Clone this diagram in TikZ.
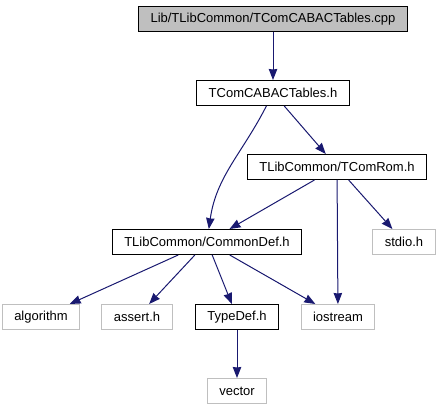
\documentclass[tikz,border=0pt]{standalone}
\usepackage{fontspec}
\setmainfont{Liberation Sans}
\usetikzlibrary{arrows.meta}
\definecolor{edgeblue}{RGB}{25,25,112}
\definecolor{mygray}{gray}{0.75}

\begin{document}
\begin{tikzpicture}[x=1pt, y=1pt, line width=1pt,
    file/.style={rectangle, draw, minimum height=25pt, inner xsep=12pt, inner ysep=0pt,
                 font=\fontsize{13}{15}\selectfont},
    sysfile/.style={file, draw=mygray},
    incl/.style={-{Stealth[length=11pt, width=8.5pt, inset=0.5pt]}, draw=edgeblue}]
        \useasboundingbox (0,0) rectangle (443,-411);

        % ファイル（ノード）の定義
        \node[file, fill=mygray] (CPP) at (273,-19) {Lib/TLibCommon/TComCABACTables.cpp};
        \node[file] (TAB) at (273,-93) {TComCABACTables.h};
        \node[file] (ROM) at (337,-167) {TLibCommon/TComRom.h};
        \node[file] (DEF) at (207,-242) {TLibCommon/CommonDef.h};
        \node[sysfile] (STD) at (404,-242) {stdio.h};
        \node[sysfile] (ALG) at (41,-317) {algorithm};
        \node[sysfile] (AST) at (137,-317) {assert.h};
        \node[file] (TYP) at (237,-317) {TypeDef.h};
        \node[sysfile] (IOS) at (338,-317) {iostream};
        \node[sysfile] (VEC) at (237,-391) {vector};

        % インクルード関係の矢印
        \draw[incl] (CPP) -- (TAB);
        \draw[incl] (TAB) to [out=-117, in=82] (DEF);
        \draw[incl] (TAB) -- (ROM);
        \draw[incl] (ROM) -- (DEF);
        \draw[incl] (ROM) -- (STD);
        \draw[incl] (ROM) -- (IOS);
        \draw[incl] (DEF) -- (ALG);
        \draw[incl] (DEF) -- (AST);
        \draw[incl] (DEF) -- (TYP);
        \draw[incl] (DEF) -- (IOS);
        \draw[incl] (TYP) -- (VEC);
    \end{tikzpicture}
\end{document}
